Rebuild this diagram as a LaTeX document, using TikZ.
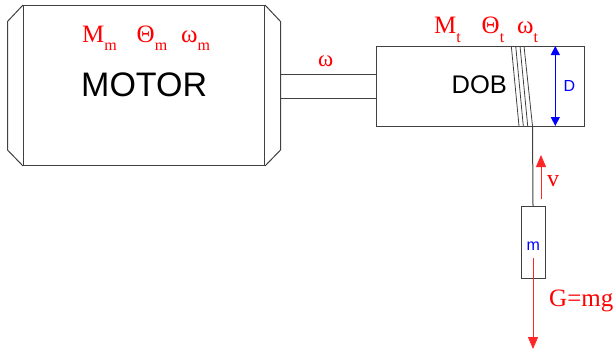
\documentclass[tikz,border=0pt]{standalone}
\usepackage{fontspec}
\setmainfont{Liberation Serif}
\newfontfamily\arialfont{Liberation Sans}
\usetikzlibrary{arrows.meta}
\definecolor{linegray}{gray}{0.25}
\newcommand{\sublabel}[2]{\fontsize{25}{25}\selectfont #1\raisebox{-8.5pt}{\fontsize{16}{16}\selectfont #2}}
\tikzset{
	part/.style={draw=linegray, line width=1pt, rectangle, inner sep=0pt},
	wire/.style={draw=linegray, line width=1pt},
	redlabel/.style={text=red, anchor=base west, inner sep=0pt},
	sanslabel/.style={anchor=base west, inner sep=0pt, font=\arialfont},
	redarrow/.style={draw=red!85!white, line width=1pt, -{Triangle[length=12pt,width=10pt]}},
	bluearrow/.style={draw=blue, line width=1pt, {Triangle[length=9pt,width=9pt]}-{Triangle[length=9pt,width=9pt]}}
}
\begin{document}
\begin{tikzpicture}[x=1pt, y=-1pt]
	\useasboundingbox (0,0) rectangle (615,349);

	\node[part, minimum width=241pt, minimum height=160pt] (motor) at (144,85.5) {};
	\node[part, minimum width=208pt, minimum height=80pt] (dob) at (480.5,86) {};
	\node[part, minimum width=24pt, minimum height=72pt] (mass) at (533,242.3) {};

	\coordinate (capLA) at (7.5,21.5);
	\coordinate (capLB) at (7.5,150);
	\coordinate (capRA) at (280.5,21.5);
	\coordinate (capRB) at (280.5,150);
	\draw[wire] (motor.north west) -- (capLA) -- (capLB) -- (motor.south west);
	\draw[wire] (motor.north east) -- (capRA) -- (capRB) -- (motor.south east);

	\coordinate (shaftA) at (376.5,74);
	\coordinate (shaftB) at (376.5,98);
	\draw[wire] (280.5,74) -- (shaftA);
	\draw[wire] (280.5,98) -- (shaftB);

	% rope on the drum
	\draw[wire, line width=.8pt] (511.3,46) -- (519,126);
	\draw[wire, line width=.8pt] (515.7,46) -- (523.3,126);
	\draw[wire, line width=.8pt] (520,46) -- (527.7,126);
	\draw[wire, line width=.8pt] (524,46) -- (532.5,126);
	\draw[wire] (532.5,126) -- (mass.north);

	\coordinate (dTop) at (555.3,46);
	\coordinate (dBot) at (555.3,126);
	\draw[bluearrow] (dTop) -- (dBot);

	\coordinate (vA) at (541,199);
	\coordinate (vB) at (541,155);
	\draw[redarrow] (vA) -- (vB);
	\coordinate (gA) at (533,258);
	\coordinate (gB) at (533,349);
	\draw[redarrow] (gA) -- (gB);

	\node[redlabel] (Mm) at (82,42.3) {\sublabel{M}{m}};
	\node[redlabel] (Thm) at (136.5,42.3) {\sublabel{Θ}{m}};
	\node[redlabel] (om) at (181,42.3) {\sublabel{ω}{m}};
	\node[sanslabel, font=\arialfont\fontsize{34}{34}\selectfont] (motortext) at (81,96) {MOTOR};

	\node[redlabel, font=\fontsize{23}{23}\selectfont] (omega) at (318,66) {ω};

	\node[redlabel] (Mt) at (434,33.5) {\sublabel{M}{t}};
	\node[redlabel] (Tht) at (481.5,33.5) {\sublabel{Θ}{t}};
	\node[redlabel] (ot) at (517,33.5) {\sublabel{ω}{t}};
	\node[sanslabel, font=\arialfont\fontsize{25.5}{25.5}\selectfont] (dobtext) at (451.5,93) {DOB};
	\node[sanslabel, text=blue, font=\arialfont\fontsize{16}{16}\selectfont] (dtext) at (563.5,91.5) {D};

	\node[sanslabel, text=blue, font=\arialfont\fontsize{16}{16}\selectfont] (mtext) at (526.5,250) {m};
	\node[redlabel, font=\fontsize{24}{24}\selectfont] (vtext) at (547,186.5) {v};
	\node[redlabel, font=\fontsize{25}{25}\selectfont] (gtext) at (549,306.7) {G=mg};
\end{tikzpicture}
\end{document}
